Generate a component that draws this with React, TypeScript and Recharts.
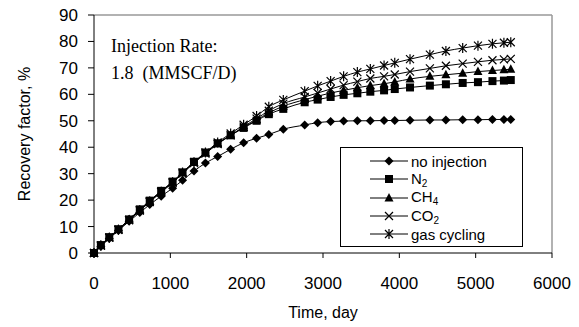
import React from 'react';
import {
    LineChart,
    Line,
    XAxis,
    YAxis,
    ReferenceLine,
    Legend,
} from 'recharts';

const days = [0, 90, 200, 320, 460, 600, 730, 880, 1030, 1160, 1310, 1460, 1620, 1790, 1960, 2130, 2290, 2480, 2760, 2930, 3100, 3270, 3450, 3620, 3800, 3940, 4140, 4400, 4610, 4830, 5030, 5220, 5370, 5460];

const noInjection = [0, 2.5, 5.5, 8.5, 12, 15.3, 18.3, 21.5, 24.5, 27.5, 31, 34, 36.5, 39.2, 41.7, 43.4, 44.8, 46.8, 48.4, 49.3, 49.7, 49.9, 50, 50, 50.1, 50.1, 50.2, 50.3, 50.3, 50.4, 50.4, 50.5, 50.5, 50.5];
const n2 = [0, 3, 6, 9, 12.7, 16.5, 19.8, 23.5, 27, 30.5, 34.5, 38, 41.5, 44.5, 47.3, 50, 52.5, 54.5, 57, 58, 59, 59.8, 60.4, 61, 61.5, 62, 62.6, 63.3, 63.8, 64.3, 64.6, 65, 65.2, 65.4];
const ch4 = [0, 3, 6, 9, 12.7, 16.3, 19.6, 23.3, 26.8, 30.3, 34.2, 37.8, 41.3, 44.5, 47.5, 50.3, 53, 55.5, 58, 59.3, 60.5, 61.5, 62.5, 63.3, 64, 64.7, 65.8, 66.8, 67.4, 68, 68.6, 69, 69.3, 69.5];
const co2 = [0, 2.8, 5.8, 8.8, 12.4, 16, 19.3, 23, 26.5, 30, 34, 37.6, 41.2, 44.5, 47.8, 50.8, 53.8, 56.5, 59, 60.5, 62, 63.5, 64.8, 66, 66.8, 67.5, 68.6, 69.8, 70.8, 71.6, 72.3, 72.9, 73.2, 73.4];
const gasCycling = [0, 2.8, 5.8, 8.8, 12.5, 16.2, 19.5, 23.2, 26.8, 30.4, 34.3, 38, 41.8, 45.2, 48.5, 51.8, 55.3, 57.9, 61.2, 63.2, 65, 66.8, 68.4, 69.6, 70.9, 71.9, 73.3, 75, 76.4, 77.5, 78.4, 79.1, 79.5, 79.7];

const seriesNames = ['no injection', 'N2', 'CH4', 'CO2', 'gas cycling'];
const xTicks = [0, 1000, 2000, 3000, 4000, 5000, 6000];
const yTicks = [0, 10, 20, 30, 40, 50, 60, 70, 80, 90];

const data = days.map((d, i) => ({
    day: d,
    s0: noInjection[i],
    s1: n2[i],
    s2: ch4[i],
    s3: co2[i],
    s4: gasCycling[i],
}));

const SANS = '"Liberation Sans", Arial, sans-serif';
const SERIF = '"Liberation Serif", "Times New Roman", serif';

type Shape = 'diamond' | 'square' | 'triangle' | 'cross' | 'star';
const shapes: Shape[] = ['diamond', 'square', 'triangle', 'cross', 'star'];

function markerPath(shape: Shape, cx: number, cy: number) {
    switch (shape) {
        case 'diamond':
            return <path d={`M${cx},${cy - 4.5}L${cx + 4.5},${cy}L${cx},${cy + 4.5}L${cx - 4.5},${cy}Z`} fill="#000" />;
        case 'square':
            return <rect x={cx - 4} y={cy - 4} width={8} height={8} fill="#000" />;
        case 'triangle':
            return <path d={`M${cx},${cy - 5}L${cx + 4.5},${cy + 3.5}L${cx - 4.5},${cy + 3.5}Z`} fill="#000" />;
        case 'cross':
            return <path d={`M${cx - 4},${cy - 4}L${cx + 4},${cy + 4}M${cx - 4},${cy + 4}L${cx + 4},${cy - 4}`} stroke="#000" strokeWidth={1.2} fill="none" />;
        default:
            return <path d={`M${cx - 4},${cy - 4}L${cx + 4},${cy + 4}M${cx - 4},${cy + 4}L${cx + 4},${cy - 4}M${cx},${cy - 5}L${cx},${cy + 5}`} stroke="#000" strokeWidth={1.2} fill="none" />;
    }
}

const makeDot = (shape: Shape) => (props: any) => {
    const { cx, cy, index } = props;
    if (cx == null || cy == null) return <g key={`${shape}-${index}`} />;
    return <g key={`${shape}-${index}`}>{markerPath(shape, cx, cy)}</g>;
};

// digits after letters get printed as subscripts (N2, CH4, CO2)
const formatName = (name: string) => {
    if (name.includes(' ')) return name;
    const parts = name.match(/[A-Za-z]+|\d+/g) || [name];
    return parts.map((p, i) =>
        /^\d+$/.test(p)
            ? <span key={i} style={{ fontSize: 10, position: 'relative', top: 3 }}>{p}</span>
            : <span key={i}>{p}</span>
    );
};

const LegendBox = () => (
    <div style={{ width: 183, height: 100, border: '1px solid #000', background: '#fff', boxSizing: 'border-box', paddingTop: 4 }}>
        {seriesNames.map((n, i) => (
            <div key={n} style={{ display: 'flex', alignItems: 'center', height: 18.3, fontFamily: SANS, fontSize: 15, color: '#000' }}>
                <svg width={68} height={14} style={{ flex: 'none' }}>
                    <line x1={29} y1={7} x2={67} y2={7} stroke="#000" strokeWidth={1} />
                    {markerPath(shapes[i], 48, 7)}
                </svg>
                <span style={{ marginLeft: 2, lineHeight: '15px', whiteSpace: 'nowrap' }}>{formatName(n)}</span>
            </div>
        ))}
    </div>
);

const XTick = (props: any) => {
    const { x, y, payload } = props;
    return (
        <text x={x} y={y + 29} textAnchor="middle" fontFamily={SANS} fontSize={17} fill="#000">
            {payload.value}
        </text>
    );
};

const YTick = (props: any) => {
    const { x, y, payload } = props;
    return (
        <text x={x - 8} y={y + 6} textAnchor="end" fontFamily={SANS} fontSize={17} fill="#000">
            {payload.value}
        </text>
    );
};

export default function App() {
    return (
        <div style={{ position: 'absolute', left: 0, top: 0, width: 579, height: 327, background: '#fff' }}>
            <LineChart
                width={579}
                height={327}
                data={data}
                margin={{ top: 15, right: 27, left: 40, bottom: 34 }}
            >
                <XAxis
                    dataKey="day"
                    type="number"
                    domain={[0, 6000]}
                    ticks={xTicks}
                    interval={0}
                    height={40}
                    stroke="#000"
                    tickSize={5}
                    tick={<XTick />}
                    label={{ value: 'Time, day', position: 'insideBottom', offset: -25, fill: '#000', fontFamily: SANS, fontSize: 16 }}
                />
                <YAxis
                    type="number"
                    domain={[0, 90]}
                    ticks={yTicks}
                    interval={0}
                    width={54}
                    stroke="#000"
                    tickSize={6}
                    tick={<YTick />}
                    label={{ value: 'Recovery factor, %', angle: -90, position: 'center', dx: -43, fill: '#000', fontFamily: SANS, fontSize: 16 }}
                />
                <ReferenceLine y={90} stroke="#999" strokeWidth={1.5} />
                <ReferenceLine x={6000} stroke="#999" strokeWidth={1.5} />
                {seriesNames.map((n, i) => (
                    <Line
                        key={n}
                        name={n}
                        dataKey={`s${i}`}
                        type="monotone"
                        stroke="#000"
                        strokeWidth={1}
                        dot={makeDot(shapes[i])}
                        activeDot={false}
                        isAnimationActive={false}
                    />
                ))}
                <Legend
                    content={<LegendBox />}
                    layout="vertical"
                    align="center"
                    verticalAlign="middle"
                    wrapperStyle={{ left: 340, top: 147, width: 183, height: 100 }}
                />
                <text x={111} y={52} fontFamily={SERIF} fontSize={18} fill="#000">Injection Rate:</text>
                <text x={111} y={79} fontFamily={SERIF} fontSize={18} fill="#000" style={{ whiteSpace: 'pre' }}>1.8  (MMSCF/D)</text>
            </LineChart>
        </div>
    );
}
